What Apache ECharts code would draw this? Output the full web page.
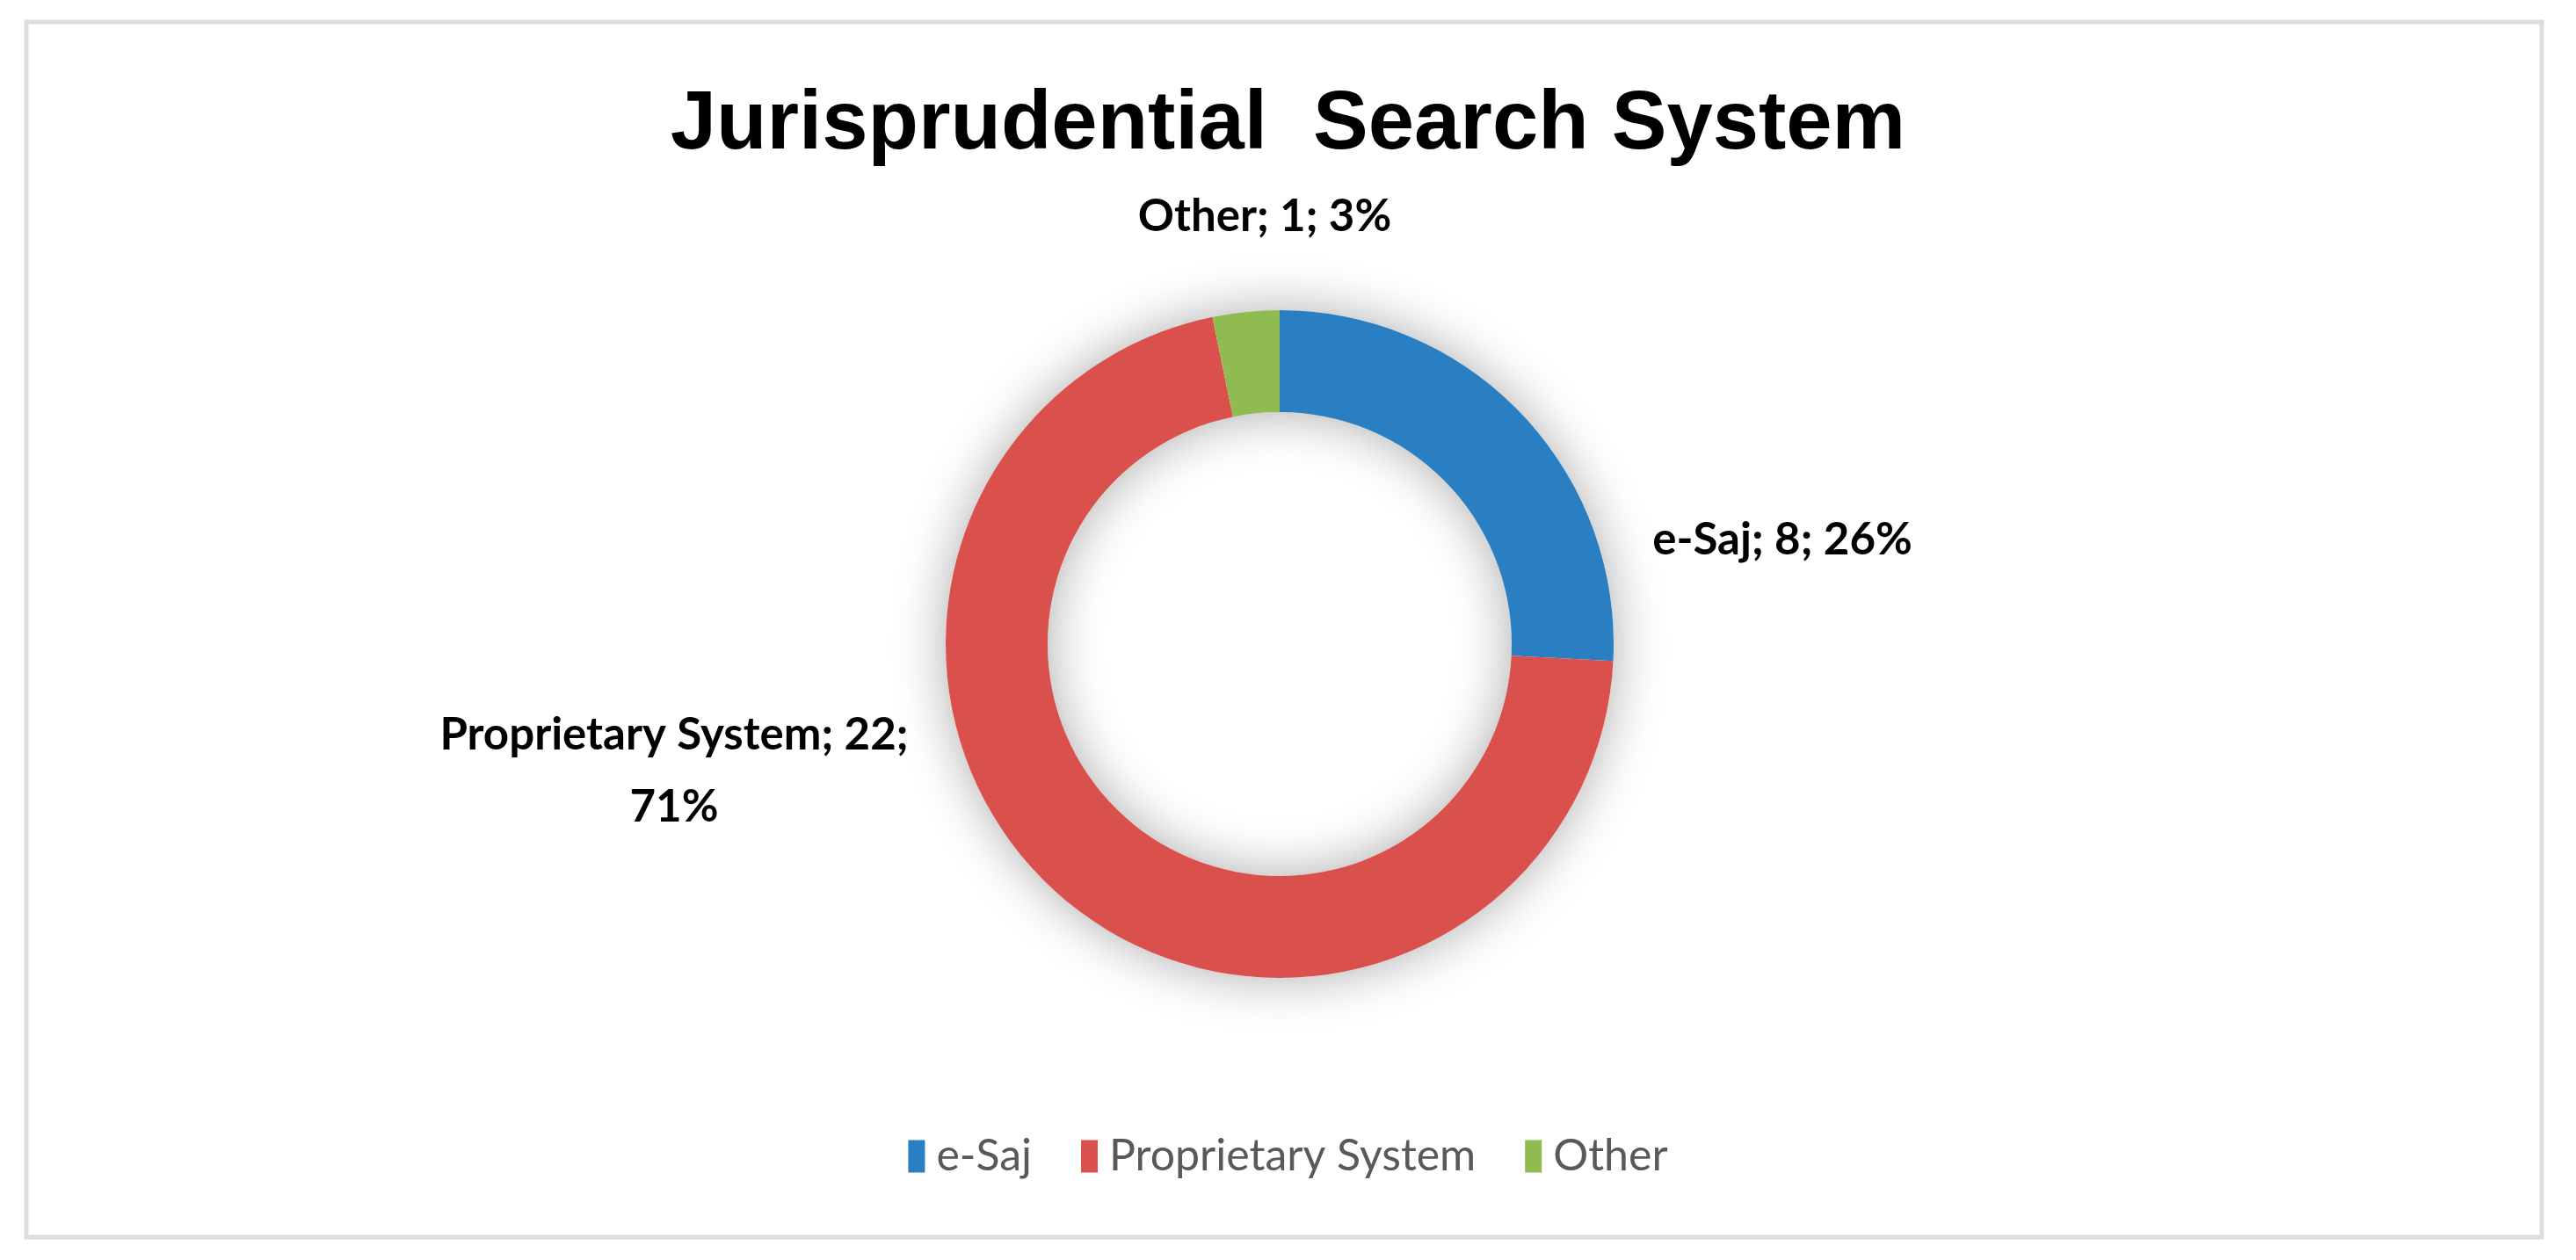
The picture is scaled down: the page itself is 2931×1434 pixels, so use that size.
<!DOCTYPE html>
<html>
<head>
<meta charset="utf-8">
<title>Jurisprudential Search System</title>
<script src="https://cdn.jsdelivr.net/npm/echarts@6/dist/echarts.min.js"></script>
<style>
  html, body { margin: 0; padding: 0; background: #fff; }
  #main { width: 2931px; height: 1434px; }
</style>
</head>
<body>
<div id="main"></div>
<script>
// data
const categories = ['e-Saj', 'Proprietary System', 'Other'];
const counts = [8, 22, 1];
const colors = ['#297FC1', '#DA504D', '#8FBB50'];

// where each slice label sits (Excel "best fit" placement)
const labelPos = [[2028, 615], [767, 878], [1439, 247]];

const chart = echarts.init(document.getElementById('main'));

const option = {
  backgroundColor: '#fff',
  title: {
    text: 'Jurisprudential  Search System',
    left: 'center',
    top: 91,
    textStyle: {
      fontFamily: 'Liberation Sans',
      fontWeight: 'bold',
      fontSize: 94,
      color: '#000'
    }
  },
  legend: {
    data: categories,
    left: 'center',
    top: 1286,
    icon: 'rect',
    itemWidth: 19,
    itemHeight: 37,
    itemGap: 56,
    textStyle: {
      fontFamily: 'Lato',
      fontSize: 50,
      color: '#595959',
      padding: [0, 0, 0, 8]
    }
  },
  graphic: [{
    // thin frame around the figure
    type: 'rect',
    silent: true,
    shape: { x: 30, y: 25, width: 2862, height: 1383 },
    style: { fill: 'none', stroke: '#DDDDDD', lineWidth: 5 }
  }],
  series: [
    {
      // plain white ring underneath, only there to cast the soft shadow
      type: 'pie',
      silent: true,
      center: [1456, 733],
      radius: [264, 380],
      label: { show: false },
      labelLine: { show: false },
      itemStyle: {
        color: '#fff',
        shadowBlur: 60,
        shadowColor: 'rgba(0,0,0,0.33)'
      },
      data: [{ value: 1, name: 'ring' }],
      z: 1
    },
    {
      type: 'pie',
      center: [1456, 733],
      radius: [264, 380],
      startAngle: 90,
      clockwise: true,
      avoidLabelOverlap: false,
      z: 2,
      data: categories.map((name, i) => ({
        name: name,
        value: counts[i],
        itemStyle: { color: colors[i] }
      })),
      label: {
        show: true,
        position: 'outside',
        fontFamily: 'Lato',
        fontWeight: 'bold',
        fontSize: 51,
        lineHeight: 82,
        color: '#000',
        formatter: function (p) {
          const sep = p.name.length > 10 ? '\n' : ' ';
          return p.name + '; ' + p.value + ';' + sep + Math.round(p.percent) + '%';
        }
      },
      labelLine: { show: false },
      labelLayout: function (params) {
        const pos = labelPos[params.dataIndex];
        return { x: pos[0], y: pos[1], align: 'center', verticalAlign: 'middle' };
      }
    }
  ]
};

chart.setOption(option);
</script>
</body>
</html>
